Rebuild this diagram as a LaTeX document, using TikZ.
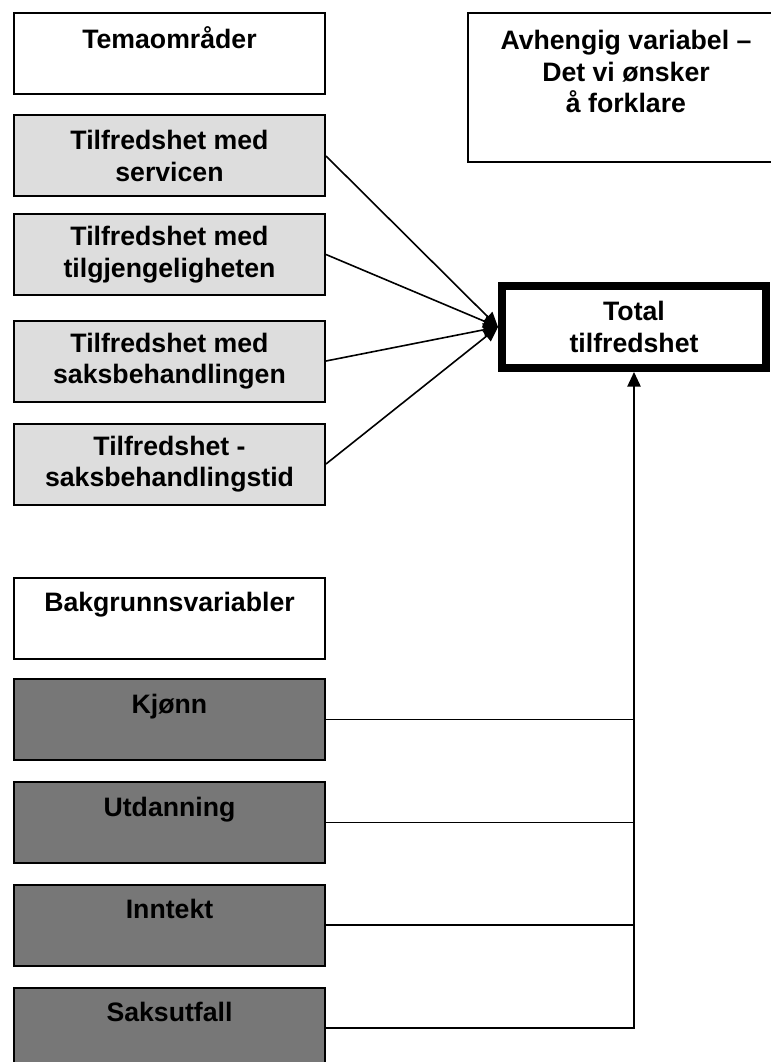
\documentclass[tikz,border=0pt]{standalone}
\usepackage{fontspec}
\setmainfont{Liberation Sans}
\usetikzlibrary{arrows.meta}

\definecolor{lightfill}{HTML}{DDDDDD}
\definecolor{darkfill}{HTML}{777777}

\tikzset{every picture/.style={line width=0.75pt}}
\tikzset{
  boxtext/.style={align=center, inner sep=0.75pt, font=\bfseries\fontsize{20}{23.6}\selectfont},
  varbox/.style={boxtext, draw, line width=1.5pt, minimum width=233.25pt, minimum height=60.75pt},
  lightbox/.style={varbox, fill=lightfill},
  darkbox/.style={varbox, fill=darkfill},
  link/.style={line width=1.2pt},
  tip/.style={link, -{Triangle[length=11pt,width=10pt]}}
}

\begin{document}
\begin{tikzpicture}[x=0.75pt,y=0.75pt,yscale=-1,xscale=1]
    \useasboundingbox (0,0) rectangle (770,1062);

    %Shape: Rectangle - Temaomrader
    \node [varbox] (tema) at (169.5,53.5) {Temaområder\\\mbox{}};
    %Shape: Rectangle
    \node [lightbox] (service) at (169.5,156) {Tilfredshet med\\servicen};
    %Shape: Rectangle
    \node [lightbox] (tilgj) at (169.5,254.5) {Tilfredshet med\\tilgjengeligheten};
    %Shape: Rectangle
    \node [lightbox] (saksbeh) at (169.5,361) {Tilfredshet med\\saksbehandlingen};
    %Shape: Rectangle
    \node [lightbox] (sakstid) at (169.5,464) {Tilfredshet -\\saksbehandlingstid};

    %Shape: Rectangle - Avhengig variabel
    \node [boxtext, draw, line width=1.5pt, minimum width=237pt, minimum height=111.75pt] (avh) at (626,87.5) {Avhengig variabel –\\Det vi ønsker\\å forklare\\\mbox{}};
    %Shape: Rectangle - Total
    \node [boxtext, draw, line width=6pt, minimum width=198pt, minimum height=61.5pt] (total) at (634,327) {Total\\tilfredshet};

    %Shape: Rectangle - Bakgrunnsvariabler
    \node [varbox] (bakgr) at (169.5,618) {Bakgrunnsvariabler\\\mbox{}};
    %Shape: Rectangle
    \node [darkbox] (kjonn) at (169.5,719.5) {Kjønn\\\mbox{}};
    %Shape: Rectangle
    \node [darkbox] (utd) at (169.5,822.5) {Utdanning\\\mbox{}};
    %Shape: Rectangle
    \node [darkbox] (inntekt) at (169.5,925) {Inntekt\\\mbox{}};
    %Shape: Rectangle
    \node [darkbox] (saksutf) at (169.5,1028) {Saksutfall\\\mbox{}};

    %Straight Lines
    \draw [tip] (service.east) -- (total.west);
    \draw [tip] (tilgj.east) -- (total.west);
    \draw [tip] (saksbeh.east) -- (total.west);
    \draw [tip] (sakstid.east) -- (total.west);

    %Straight Lines
    \draw [tip] (saksutf.east) -| (total.south);
    \draw [link] (kjonn.east) -- (kjonn.east -| total.south);
    \draw [link] (utd.east) -- (utd.east -| total.south);
    \draw [link] (inntekt.east) -- (inntekt.east -| total.south);

\end{tikzpicture}
\end{document}
